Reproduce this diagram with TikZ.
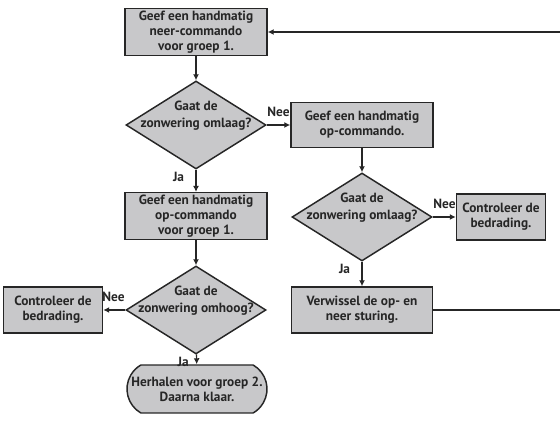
\documentclass[tikz,border=0pt]{standalone}
\usepackage{fontspec}
\setmainfont{PT Sans}
\usetikzlibrary{shapes.geometric,shapes.misc,arrows.meta}
\definecolor{boxgray}{RGB}{200,200,202}
\definecolor{ink}{RGB}{38,38,38}
\begin{document}
\begin{tikzpicture}[x=0.75pt, y=-0.75pt,
    every node/.style={font=\bfseries\fontsize{10}{11.2}\selectfont, text=ink},
    stepbox/.style={draw=ink, fill=boxgray, line width=1.1pt, align=center, inner sep=0pt, minimum width=106.5pt, minimum height=35pt},
    decision/.style={diamond, draw=ink, fill=boxgray, line width=1.1pt, inner sep=0pt, minimum width=105pt, minimum height=66pt},
    endbox/.style={rounded rectangle, rounded rectangle arc length=120, draw=ink, fill=boxgray, line width=1.1pt, align=center, inner sep=0pt, minimum width=105pt, minimum height=36pt},
    flow/.style={-{Latex[length=4.5pt,width=4.5pt]}, draw=ink, line width=0.9pt},
    lbl/.style={inner sep=0.5pt}]
    \useasboundingbox (0,0) rectangle (560,423);
    \node[stepbox] (neer1) at (196,32) {Geef een handmatig\\neer-commando\\voor groep 1.};
    \node[decision] (vraag1) at (196,125) {};
    \node[align=center] at ([yshift=7pt]vraag1.center) {Gaat de\\[1.5pt]zonwering omlaag?};
    \node[stepbox, minimum height=33.75pt] (op2) at (362,125) {Geef een handmatig\\op-commando.};
    \node[stepbox] (op1) at (196,216) {Geef een handmatig\\op-commando\\voor groep 1.};
    \node[decision] (vraag2) at (362,217) {};
    \node[align=center] at ([yshift=7pt]vraag2.center) {Gaat de\\[1.5pt]zonwering omlaag?};
    \node[stepbox, minimum width=66.75pt, minimum height=34.5pt] (check1) at (501,217) {Controleer de\\bedrading.};
    \node[stepbox, minimum width=105.75pt, minimum height=34.5pt] (swap) at (362,310) {Verwissel de op- en\\neer sturing.};
    \node[decision] (vraag3) at (196,310) {};
    \node[align=center] at ([yshift=7pt]vraag3.center) {Gaat de\\[1.5pt]zonwering omhoog?};
    \node[stepbox, minimum width=74.25pt, minimum height=34.5pt] (check2) at (53,310) {Controleer de\\bedrading.};
    \node[endbox] (klaar) at (197,389) {Herhalen voor groep 2.\\Daarna klaar.};
    \coordinate (terug) at (561.5,310);

    \draw[flow] (neer1) -- (vraag1);
    \draw[flow] (vraag1) -- node[lbl, pos=0, anchor=south west, yshift=5pt, xshift=-0.5pt] {Nee} (op2);
    \draw[flow] (vraag1) -- node[lbl, pos=0, anchor=north east, xshift=-8pt, yshift=-1pt] {Ja} (op1);
    \draw[flow] (op2) -- (vraag2);
    \draw[flow] (vraag2) -- node[lbl, pos=0, anchor=south west, yshift=5pt, xshift=-0.5pt] {Nee} (check1);
    \draw[flow] (vraag2) -- node[lbl, pos=0, anchor=north east, xshift=-8pt, yshift=-1pt] {Ja} (swap);
    \draw[flow] (op1) -- (vraag3);
    \draw[flow] (vraag3) -- node[lbl, pos=0, anchor=south east, yshift=5pt, xshift=0.5pt] {Nee} (check2);
    \draw[flow] (vraag3) -- node[lbl, pos=0, anchor=north east, xshift=-5pt, yshift=-1pt] {Ja} (klaar);
    \draw[flow] (swap.east) -- (terug) |- (neer1.east);
\end{tikzpicture}
\end{document}
